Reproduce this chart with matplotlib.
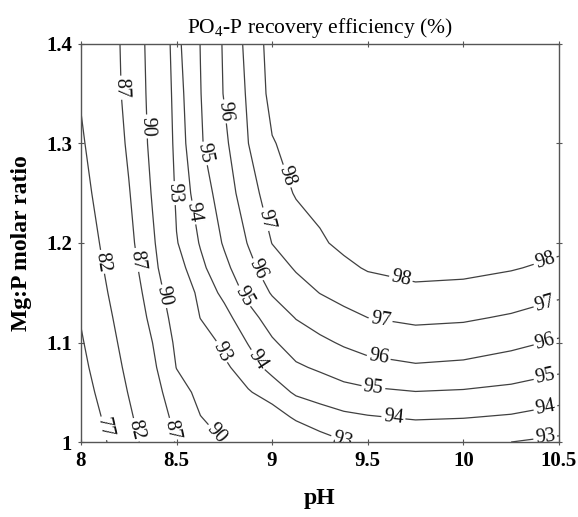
import matplotlib
matplotlib.use("Agg")
import matplotlib.pyplot as plt
import numpy as np

plt.rcParams['font.family'] = ['Liberation Serif', 'DejaVu Serif']
plt.rcParams['mathtext.fontset'] = 'custom'
plt.rcParams['mathtext.rm'] = 'Liberation Serif'

# grid
ph = [8.0, 8.125, 8.25, 8.375, 8.5, 8.625, 8.75, 8.875, 9.0, 9.125, 9.25, 9.375,
      9.5, 9.75, 10.0, 10.25, 10.5]
ratio = [1.0, 1.025, 1.05, 1.075, 1.1, 1.125, 1.15, 1.175, 1.2, 1.25, 1.3, 1.35, 1.4]

# PO4-P recovery efficiency (%) for each Mg:P ratio row
eff_1000 = [73.0, 76.67, 80.4, 84.06, 87.26, 88.67, 90.03, 90.65, 91.3, 92.0, 92.6, 92.95, 93.1, 93.2, 93.15, 93.0, 92.8]
eff_1025 = [73.8, 77.55, 81.3, 84.94, 87.89, 89.95, 90.8, 91.63, 92.45, 93.17, 93.54, 93.79, 93.93, 94.1, 94.04, 93.9, 93.6]
eff_1050 = [74.9, 78.54, 82.18, 85.68, 88.85, 90.69, 91.8, 92.9, 93.5, 94.14, 94.4, 94.68, 94.82, 94.97, 94.9, 94.75, 94.45]
eff_1075 = [75.8, 79.4, 82.95, 86.38, 90.07, 91.42, 92.78, 93.61, 94.27, 94.86, 95.14, 95.44, 95.67, 95.89, 95.79, 95.52, 95.2]
eff_1100 = [76.55, 80.14, 83.63, 87.02, 90.54, 92.17, 93.34, 94.04, 94.87, 95.47, 95.8, 96.12, 96.38, 96.56, 96.49, 96.24, 95.88]
eff_1125 = [77.27, 80.85, 84.29, 87.88, 91.08, 93.04, 93.68, 94.62, 95.46, 96.04, 96.43, 96.75, 97.0, 97.19, 97.12, 96.9, 96.55]
eff_1150 = [78.0, 81.57, 84.95, 88.58, 91.7, 93.39, 94.23, 95.28, 96.08, 96.6, 97.02, 97.3, 97.54, 97.77, 97.7, 97.49, 97.17]
eff_1175 = [78.6, 82.2, 85.6, 89.23, 92.53, 93.76, 94.75, 95.7, 96.55, 97.09, 97.45, 97.8, 98.08, 98.3, 98.25, 98.07, 97.78]
eff_1200 = [79.38, 82.76, 86.15, 89.64, 92.93, 94.08, 95.11, 96.05, 97.02, 97.42, 97.88, 98.2, 98.35, 98.5, 98.47, 98.35, 98.25]
eff_1250 = [80.6, 83.68, 86.8, 90.23, 93.23, 94.53, 95.45, 96.58, 97.48, 98.08, 98.28, 98.45, 98.6, 98.72, 98.7, 98.6, 98.5]
eff_1300 = [81.5, 84.45, 87.46, 90.69, 93.43, 94.9, 95.79, 96.99, 97.94, 98.3, 98.45, 98.6, 98.72, 98.83, 98.82, 98.75, 98.68]
eff_1350 = [82.29, 85.06, 87.89, 90.82, 93.58, 94.97, 96.06, 97.13, 98.3, 98.5, 98.6, 98.7, 98.8, 98.88, 98.87, 98.82, 98.75]
eff_1400 = [82.24, 85.16, 88.06, 90.95, 93.75, 95.02, 96.11, 97.27, 98.4, 98.58, 98.7, 98.77, 98.82, 98.9, 98.88, 98.84, 98.78]

levels = [77, 82, 87, 90, 93, 94, 95, 96, 97, 98]

# where the contour labels sit (pH, ratio)
label_pos = [
    (8.126, 1.014),
    (8.11, 1.181), (8.283, 1.012),
    (8.204, 1.356), (8.293, 1.183), (8.466, 1.012),
    (8.335, 1.317), (8.424, 1.146), (8.712, 1.009),
    (8.476, 1.25), (8.717, 1.089), (9.372, 1.004), (10.43, 1.002),
    (8.571, 1.23), (8.92, 1.082), (9.633, 1.022), (10.43, 1.034),
    (8.65, 1.29), (8.848, 1.146), (9.529, 1.054), (10.43, 1.065),
    (8.743, 1.332), (8.92, 1.173), (9.555, 1.082), (10.43, 1.10),
    (8.948, 1.223), (9.565, 1.12), (10.43, 1.138),
    (9.058, 1.266), (9.67, 1.161), (10.43, 1.181),
]

Z = np.array([eff_1000, eff_1025, eff_1050, eff_1075, eff_1100, eff_1125, eff_1150,
              eff_1175, eff_1200, eff_1250, eff_1300, eff_1350, eff_1400])

fig = plt.figure(figsize=(5.78, 5.17), dpi=100)
ax = fig.add_axes([0.140, 0.145, 0.827, 0.770])

cs = ax.contour(ph, ratio, Z, levels=levels, colors='#404040', linewidths=0.9)
lbls = ax.clabel(cs, fmt='%d', manual=label_pos, inline=True, inline_spacing=2, fontsize=14.5)
for t in lbls:
    t.set_color('#111111')

ax.set_xlim(8, 10.5)
ax.set_ylim(1, 1.4)
ax.set_xticks([8, 8.5, 9, 9.5, 10, 10.5])
ax.set_xticklabels(['8', '8.5', '9', '9.5', '10', '10.5'])
ax.set_yticks([1, 1.1, 1.2, 1.3, 1.4])
ax.set_yticklabels(['1', '1.1', '1.2', '1.3', '1.4'])
ax.tick_params(direction='inout', length=5, width=0.8, color='#555555',
               top=True, right=True, labelsize=15, pad=4)
for lab in ax.get_xticklabels() + ax.get_yticklabels():
    lab.set_fontweight('bold')
for sp in ax.spines.values():
    sp.set_color('#555555')
    sp.set_linewidth(1.0)

ax.set_title('PO$_4$-P recovery efficiency (%)', fontsize=15.5, pad=8)
ax.set_xlabel('pH', fontsize=17, fontweight='bold', labelpad=12)
ax.set_ylabel('Mg:P molar ratio', fontsize=17, fontweight='bold', labelpad=10)

fig.savefig('out.png', dpi=100)
